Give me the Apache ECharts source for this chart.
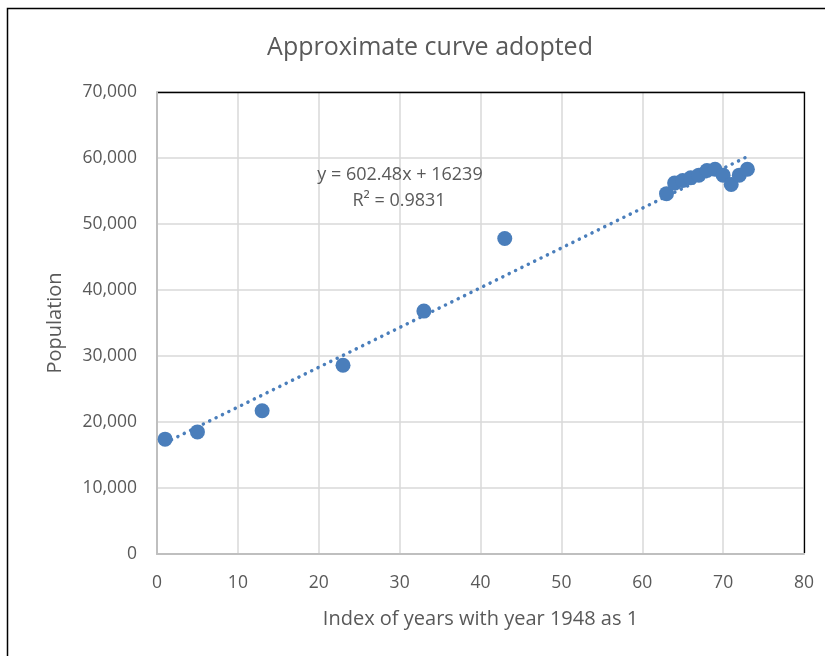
<!DOCTYPE html>
<html>
<head>
<meta charset="utf-8">
<script src="https://cdn.jsdelivr.net/npm/echarts@6/dist/echarts.min.js"></script>
<style>html,body{margin:0;padding:0;background:#fff;}#c{width:825px;height:656px;}</style>
</head>
<body>
<div id="c"></div>
<script>
const titleText = 'Approximate curve adopted';
const xName = 'Index of years with year 1948 as 1';
const yName = 'Population';
const yearIndex = [1, 5, 13, 23, 33, 43, 63, 64, 65, 66, 67, 68, 69, 70, 71, 72, 73];
const population = [17400, 18500, 21700, 28600, 36800, 47800, 54600, 56200, 56600, 57000, 57400, 58100, 58300, 57400, 56000, 57400, 58300];
const trendSlope = 602.48;
const trendIntercept = 16239;
const equationLines = ['y = 602.48x + 16239', 'R\u00B2 = 0.9831'];

const FONT = '"Open Sans", "Noto Sans", sans-serif';
const TXT = '#595959';
const BLUE = '#4a7ebb';

const points = yearIndex.map((x, i) => [x, population[i]]);
const xMin = Math.min(...yearIndex), xMax = Math.max(...yearIndex);
const trend = [[xMin, trendSlope * xMin + trendIntercept], [xMax, trendSlope * xMax + trendIntercept]];

const G = {left: 157, right: 21, top: 92, bottom: 102};
const W = 825, H = 656;

const chart = echarts.init(document.getElementById('c'), null, {renderer: 'canvas'});
chart.setOption({
  backgroundColor: '#fff',
  animation: false,
  title: {
    text: titleText, left: 425, top: 30, textAlign: 'center',
    textStyle: {fontFamily: FONT, fontSize: 25, fontWeight: 'normal', color: TXT}
  },
  grid: {left: G.left, right: G.right, top: G.top, bottom: G.bottom},
  xAxis: {
    type: 'value', min: 0, max: 80, interval: 10,
    name: xName, nameLocation: 'middle', nameGap: 55,
    nameTextStyle: {fontFamily: FONT, fontSize: 20, color: TXT},
    axisLine: {show: true, onZero: false, lineStyle: {color: '#bfbfbf', width: 2}},
    axisTick: {show: false},
    axisLabel: {fontFamily: FONT, fontSize: 17.5, color: TXT, margin: 20},
    splitLine: {show: true, lineStyle: {color: '#d9d9d9', width: 1.5}}
  },
  yAxis: {
    type: 'value', min: 0, max: 70000, interval: 10000,
    name: yName, nameLocation: 'middle', nameGap: 92, nameRotate: 90,
    nameTextStyle: {fontFamily: FONT, fontSize: 20, color: TXT},
    axisLine: {show: true, onZero: false, lineStyle: {color: '#bfbfbf', width: 2}},
    axisTick: {show: false},
    axisLabel: {fontFamily: FONT, fontSize: 17.5, color: TXT, margin: 20,
      formatter: v => v.toLocaleString('en-US')},
    splitLine: {show: true, lineStyle: {color: '#d9d9d9', width: 1.5}}
  },
  series: [
    {
      type: 'line', data: trend, symbol: 'none', z: 3,
      lineStyle: {color: BLUE, width: 3.5, type: [0.1, 7], cap: 'round'}
    },
    {
      type: 'scatter', data: points, symbol: 'circle', symbolSize: 15, z: 4,
      itemStyle: {color: BLUE, opacity: 1, borderWidth: 0}
    }
  ],
  graphic: [
    {type: 'rect', shape: {x: 7.5, y: 8.5, width: 900, height: 700}, style: {fill: 'none', stroke: '#000', lineWidth: 1.5}, silent: true, z: 10},
    {type: 'polyline', shape: {points: [[G.left + 1, G.top + 0.5], [W - G.right + 0.5, G.top + 0.5], [W - G.right + 0.5, H - G.bottom - 1]]}, style: {fill: 'none', stroke: '#000', lineWidth: 1.3}, silent: true, z: 20},
    {type: 'text', x: 400, y: 175, style: {text: equationLines[0], fontFamily: FONT, fontSize: 18, fill: TXT, align: 'center', verticalAlign: 'middle'}, z: 10},
    {type: 'text', x: 399, y: 201, style: {text: equationLines[1], fontFamily: FONT, fontSize: 18, fill: TXT, align: 'center', verticalAlign: 'middle'}, z: 10}
  ]
});
</script>
</body>
</html>
